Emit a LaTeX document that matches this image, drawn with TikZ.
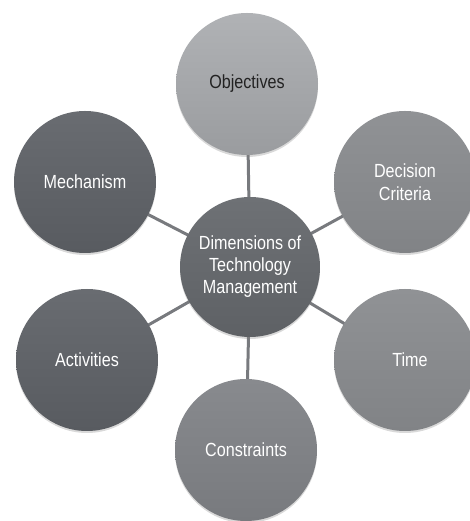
\documentclass[tikz,border=0pt]{standalone}
\usepackage{fontspec}
\setmainfont{Liberation Sans}[FakeStretch=0.85]
\usetikzlibrary{backgrounds,shadows}
\definecolor{objT}{HTML}{B0B2B5}
\definecolor{objB}{HTML}{9A9C9F}
\definecolor{darkT}{HTML}{696C71}
\definecolor{darkB}{HTML}{585B60}
\definecolor{midT}{HTML}{909295}
\definecolor{midB}{HTML}{818386}
\definecolor{consT}{HTML}{888A8E}
\definecolor{consB}{HTML}{787A7E}
\definecolor{cenT}{HTML}{6E7175}
\definecolor{cenB}{HTML}{5E6165}
\definecolor{linkc}{HTML}{787A7E}
\definecolor{darktext}{HTML}{222222}
\tikzset{
  circ/.style={circle, minimum size=142pt, inner sep=0pt, align=center,
    font=\fontsize{19}{23}\selectfont, text=white,
    drop shadow={opacity=0.3, shadow xshift=0pt, shadow yshift=-2pt}},
  objfill/.style={top color=objT, bottom color=objB, text=darktext},
  darkfill/.style={top color=darkT, bottom color=darkB},
  midfill/.style={top color=midT, bottom color=midB},
  consfill/.style={top color=consT, bottom color=consB},
  cenfill/.style={top color=cenT, bottom color=cenB},
  link/.style={draw=linkc, line width=3pt}
}
\begin{document}
\begin{tikzpicture}[x=1pt,y=1pt]
\useasboundingbox (0,0) rectangle (469,521);
\node[circ, cenfill, minimum size=140pt, font=\fontsize{19}{22}\selectfont] (c) at (250,254) {Dimensions of\\Technology\\Management};
\node[circ, objfill] (obj) at (247,437) {Objectives};
\node[circ, darkfill] (mech) at (85,339) {Mechanism};
\node[circ, midfill] (dec) at (405,339) {Decision\\Criteria};
\node[circ, darkfill] (act) at (87,161) {Activities};
\node[circ, midfill] (time) at (405,161) {\hspace*{10pt}Time};
\node[circ, consfill] (cons) at (246,71) {Constraints};
\begin{scope}[on background layer]
\draw[link] (c.center) -- (obj.center);
\draw[link] (c.center) -- (mech.center);
\draw[link] (c.center) -- (dec.center);
\draw[link] (c.center) -- (act.center);
\draw[link] (c.center) -- (time.center);
\draw[link] (c.center) -- (cons.center);
\end{scope}
\end{tikzpicture}
\end{document}
